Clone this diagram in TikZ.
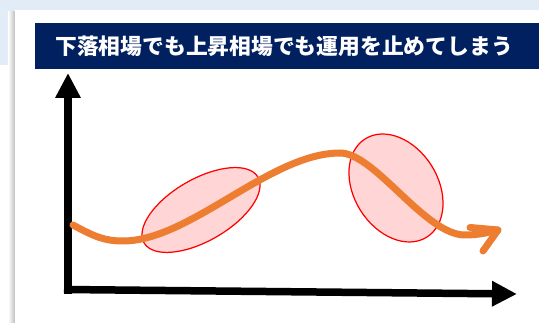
\documentclass[tikz,border=0pt]{standalone}
\usepackage{fontspec}
\newfontfamily\jpfont{Noto Sans CJK JP}
\usepackage{tikz}
\usetikzlibrary{arrows.meta}
\usetikzlibrary{shapes.geometric}
\definecolor{bgblue}{HTML}{E2ECF6}
\definecolor{titlenavy}{HTML}{002060}
\definecolor{trendorange}{HTML}{ED7D31}
\definecolor{zonepink}{HTML}{FFD5D5}
\tikzset{
	axisline/.style={line width=0.15cm, -{Triangle[length=0.5cm,width=0.48cm]}},
	trend/.style={trendorange, line width=0.14cm, line cap=round, line join=round},
	zone/.style={ellipse, draw=red, fill=zonepink, line width=0.7pt, inner sep=0pt},
}

\begin{document}
\begin{tikzpicture}[x=0.02cm, y=-0.02cm]
		% Background and panel:
		\useasboundingbox (0,0) rectangle (539,323);
		\fill[bgblue] (0,0) rectangle (539,65);
		\shade[left color=white, right color=black!25] (8,12) rectangle (15,323);
		\fill[white] (15,10) rectangle (539,323);
		% Title bar:
		\fill[titlenavy] (35,23) rectangle (539,69);
		\node[anchor=west, text=white, inner sep=0pt, font=\jpfont\bfseries\fontsize{12.4pt}{14pt}\selectfont] (title) at (55,46) {下落相場でも上昇相場でも運用を止めてしまう};
		% Zones:
		\node[zone, minimum width=2.63cm, minimum height=1.24cm, rotate=30] (dipzone) at (201,210) {};
		\node[zone, minimum width=2.32cm, minimum height=1.68cm, rotate=-58] (peakzone) at (396,188) {};
		% Axes:
		\coordinate (origin) at (68,294);
		\coordinate (ytip) at (68,73);
		\coordinate (xstart) at (64,289.5);
		\coordinate (xtip) at (517,294);
		\draw[axisline] (origin) -- (ytip);
		\draw[axisline] (xstart) -- (xtip);
		% Price curve:
		\draw[trend] (73,225) .. controls (95,237) and (105,241) .. (123,241)
			.. controls (190,241) and (270,153) .. (340,153)
			.. controls (375,153) and (425,235) .. (465,235)
			.. controls (480,235) and (490,232) .. (498,230);
		\draw[trend] (470,227.5) -- (498,230) -- (483,251);
	\end{tikzpicture}
\end{document}
